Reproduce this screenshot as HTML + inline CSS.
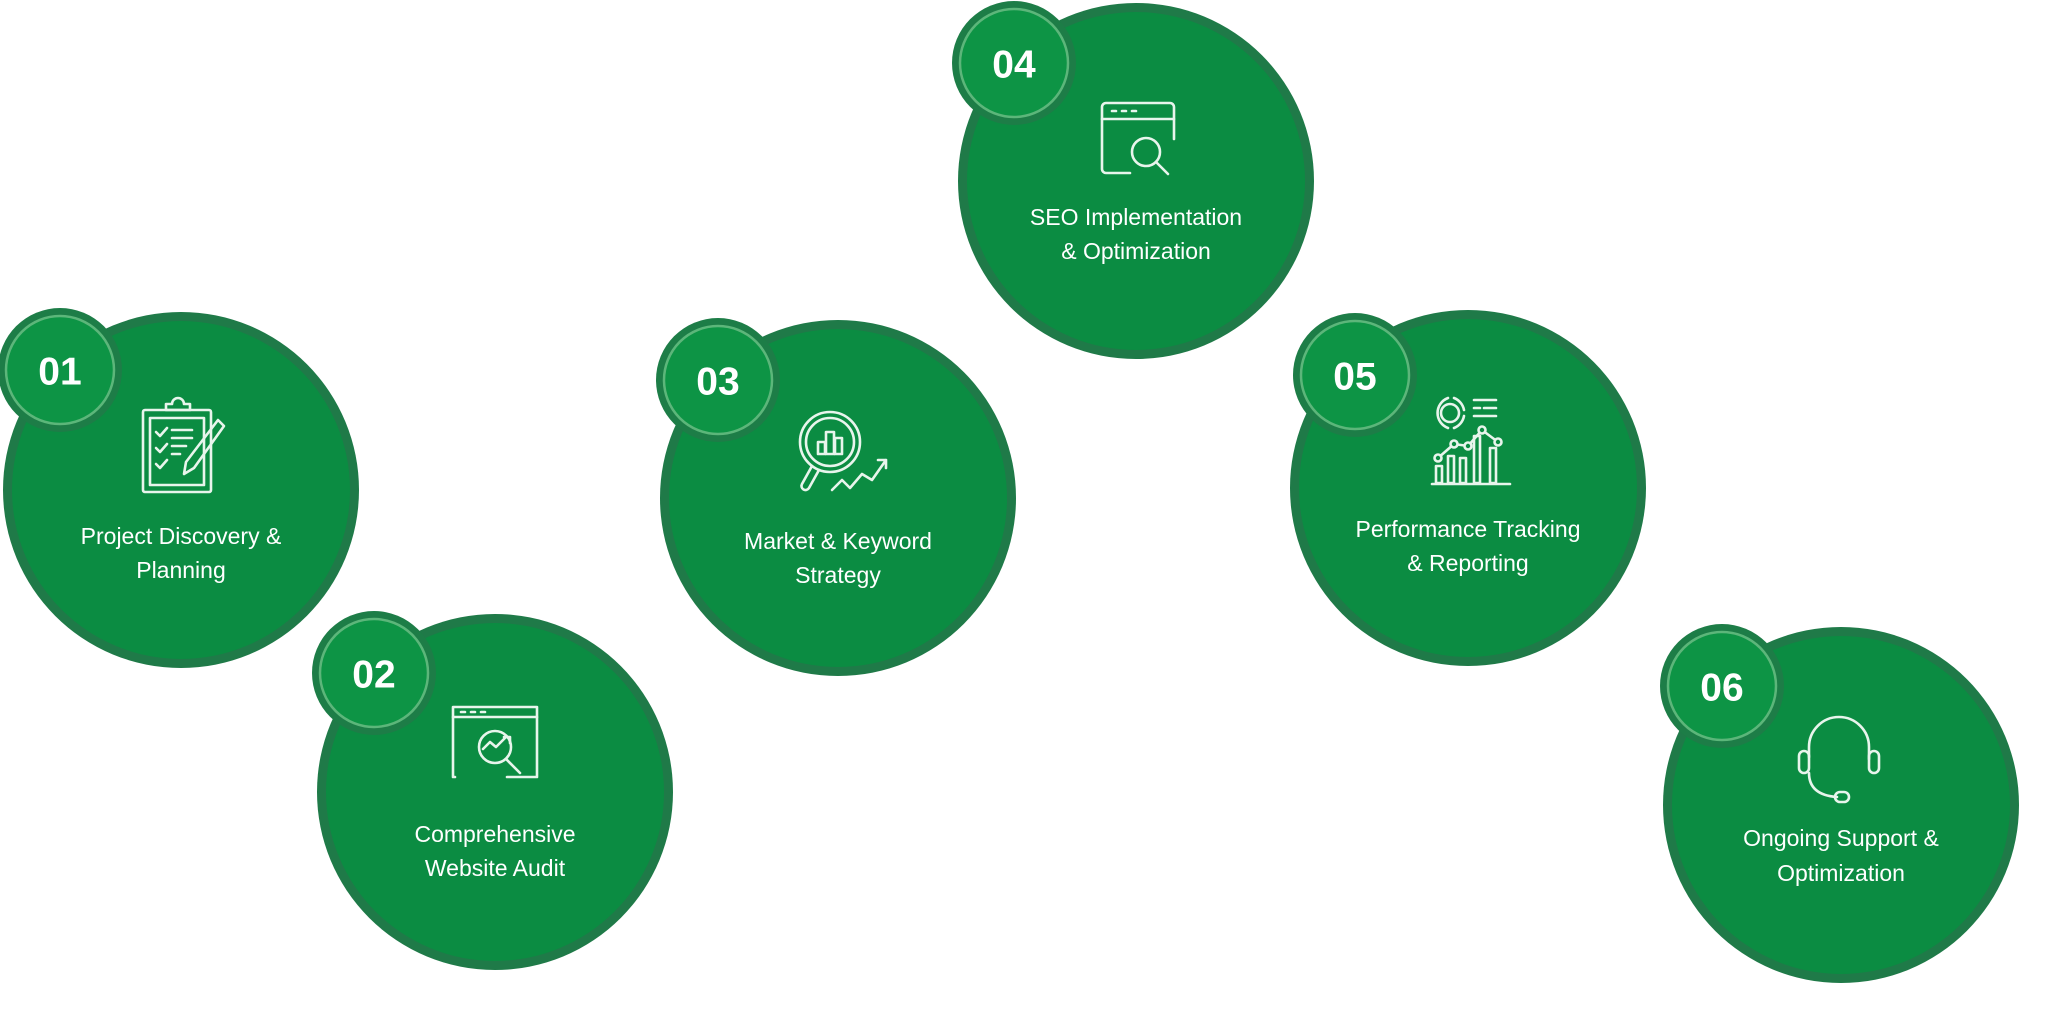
<!DOCTYPE html>
<html><head><meta charset="utf-8"><style>
html,body{margin:0;padding:0;background:#fff;}
svg{display:block;}
text{font-family:"Liberation Sans","DejaVu Sans",sans-serif;fill:#fff;}
.lbl{font-size:23px;text-anchor:middle;dominant-baseline:central;}
.num{font-size:39px;font-weight:bold;text-anchor:middle;dominant-baseline:central;}
.ic{fill:none;stroke:#e8f5ec;stroke-width:2.6;stroke-linecap:round;stroke-linejoin:round;}
</style></head><body>
<svg width="2048" height="1010" viewBox="0 0 2048 1010" xmlns="http://www.w3.org/2000/svg">
<defs>
<g id="main"><circle r="178" fill="#1f7a48"/><circle r="169" fill="#0b8c42"/></g>
<g id="badge"><circle r="62" fill="#1d7d47"/><circle r="54" fill="#0d9445" stroke="#5cb67a" stroke-width="2.5"/></g>
</defs>

<!-- 01 -->
<use href="#main" x="181" y="490"/>
<use href="#badge" x="60" y="370"/>
<text class="num" x="60" y="372">01</text>
<g class="ic" transform="translate(178,450)">
<rect x="-35" y="-40" width="68" height="82" rx="2"/>
<rect x="-28" y="-32" width="54" height="67"/>
<path d="M-12,-40 v-6 h6 a6,6 0 0 1 12,0 h6 v6 z"/>
<path d="M-22,-18 l4,4 7,-8 M-22,-2 l4,4 7,-8 M-22,14 l4,4 7,-8"/>
<path d="M-6,-20 h20 M-6,-12 h20 M-6,-4 h14 M-6,4 h8"/>
<path d="M40,-30 l6,6 -30,42 -10,6 2,-12 z"/>
</g>
<text class="lbl" x="181" y="536">Project Discovery &amp;</text>
<text class="lbl" x="181" y="570">Planning</text>

<!-- 02 -->
<g transform="translate(-3,0)">
<use href="#main" x="498" y="792"/>
<use href="#badge" x="377" y="673"/>
<text class="num" x="377" y="675">02</text>
<g class="ic" transform="translate(498,739)">
<path d="M-40,38 h-2 v-70 h84 v70 h-30"/>
<path d="M-42,-22 h84"/>
<path d="M-34,-27 h4 M-24,-27 h4 M-14,-27 h4"/>
<circle cx="0" cy="8" r="16"/>
<path d="M11,20 l14,14"/>
<path d="M-12,10 l7,-7 6,5 10,-10 M9,-2 h6 v6"/>
</g>
<text class="lbl" x="498" y="834">Comprehensive</text>
<text class="lbl" x="498" y="868">Website Audit</text>
</g>

<!-- 03 -->
<g transform="translate(-4,0)">
<use href="#main" x="842" y="498"/>
<use href="#badge" x="722" y="380"/>
<text class="num" x="722" y="382">03</text>
<g class="ic" transform="translate(842,450)">
<circle cx="-8" cy="-8" r="30"/>
<circle cx="-8" cy="-8" r="24"/>
<rect x="-20" y="-8" width="7" height="12"/><rect x="-12" y="-18" width="8" height="22"/><rect x="-3" y="-12" width="7" height="16"/>
<path d="M-26,16 l-10,18 a4,4 0 0 0 7,4 l10,-18"/>
<path d="M-6,40 l10,-10 8,8 12,-14 10,6 14,-20 M40,10 h8 v8"/>
</g>
<text class="lbl" x="842" y="541">Market &amp; Keyword</text>
<text class="lbl" x="842" y="575">Strategy</text>
</g>

<!-- 04 -->
<g transform="translate(-5,3)">
<use href="#main" x="1141" y="178"/>
<use href="#badge" x="1019" y="60"/>
<text class="num" x="1019" y="62">04</text>
<g class="ic" transform="translate(1139,133)">
<path d="M-4,37 h-24 a4,4 0 0 1 -4,-4 v-62 a4,4 0 0 1 4,-4 h64 a4,4 0 0 1 4,4 v32"/>
<path d="M-32,-17 h72"/>
<path d="M-22,-25 h4 M-12,-25 h4 M-2,-25 h4"/>
<circle cx="12" cy="16" r="14"/>
<path d="M22,26 l12,12"/>
</g>
<text class="lbl" x="1141" y="214">SEO Implementation</text>
<text class="lbl" x="1141" y="248">&amp; Optimization</text>
</g>

<!-- 05 -->
<g transform="translate(-6,0)">
<use href="#main" x="1474" y="488"/>
<use href="#badge" x="1361" y="375"/>
<text class="num" x="1361" y="377">05</text>
<g class="ic" transform="translate(1474,444)">
<path d="M-36,40 h78"/>
<rect x="-32" y="22" width="6" height="17"/><rect x="-20" y="12" width="6" height="27"/><rect x="-8" y="14" width="6" height="25"/><rect x="6" y="-8" width="6" height="47"/><rect x="22" y="4" width="6" height="35"/>
<path d="M-30,14 L-14,0 L0,2 L14,-14 L30,-2"/>
<circle cx="-30" cy="14" r="3.5" fill="#0b8c42"/><circle cx="-14" cy="0" r="3.5" fill="#0b8c42"/><circle cx="0" cy="2" r="3.5" fill="#0b8c42"/><circle cx="14" cy="-14" r="3.5" fill="#0b8c42"/><circle cx="30" cy="-2" r="3.5" fill="#0b8c42"/>
<path d="M-20,-46 a16,16 0 0 0 0,30 M-14,-46 a16,16 0 0 1 10,12 M-4,-28 a16,16 0 0 1 -10,12"/>
<circle cx="-18" cy="-31" r="9"/>
<path d="M6,-44 h22 M6,-36 h6 M16,-36 h12 M6,-28 h22"/>
</g>
<text class="lbl" x="1474" y="529">Performance Tracking</text>
<text class="lbl" x="1474" y="563">&amp; Reporting</text>
</g>

<!-- 06 -->
<use href="#main" x="1841" y="805"/>
<use href="#badge" x="1722" y="686"/>
<text class="num" x="1722" y="688">06</text>
<g class="ic" transform="translate(1839,759)">
<path d="M-30,-2 v-10 a30,30 0 0 1 60,0 v12"/>
<rect x="-40" y="-8" width="10" height="22" rx="5"/>
<rect x="30" y="-8" width="10" height="22" rx="5"/>
<path d="M-30,14 q0,22 28,24"/>
<rect x="-4" y="33" width="14" height="10" rx="5"/>
</g>
<text class="lbl" x="1841" y="838">Ongoing Support &amp;</text>
<text class="lbl" x="1841" y="873">Optimization</text>
</svg>
</body></html>
